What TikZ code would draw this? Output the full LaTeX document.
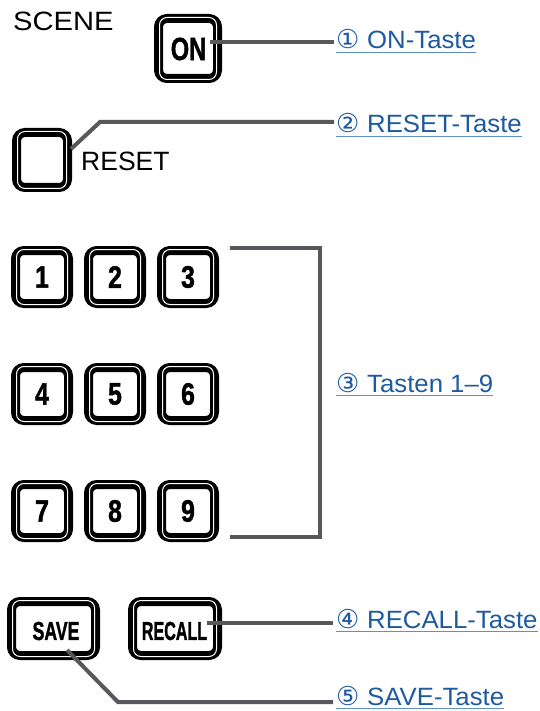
\documentclass[tikz,border=0pt]{standalone}
\usepackage{fontspec}
\usepackage{graphicx}
\setmainfont{Liberation Sans}
\newfontfamily\lblfont{Liberation Sans}[FakeStretch=1.03]
\newfontfamily\circfont{DejaVu Sans}
\newfontfamily\keyfont{Liberation Sans Bold}[FakeBold=1.6]
\definecolor{leadgray}{RGB}{88,88,92}
\definecolor{lblblue}{RGB}{30,90,160}
\definecolor{ulblue}{RGB}{95,145,200}
\tikzset{
  keyshape/.style={draw=black, line width=9pt, rounded corners=8.5pt, inner sep=0pt, outer sep=0pt, fill=white},
  keytext/.style={inner sep=0pt},
  plain/.style={inner sep=0pt, anchor=base west, font=\fontsize{26.5}{26.5}\selectfont},
  leader/.style={draw=leadgray, line width=4pt, line join=miter},
  lbl/.style={inner sep=0pt, anchor=base west, text=lblblue, font=\lblfont\fontsize{25}{25}\selectfont},
  uline/.style={draw=ulblue, line width=1.1pt}
}
\newcommand\keybtn[5]{%
  \node[keyshape, minimum width=#4-9, minimum height=#5-9] (#1) at (#2,#3) {};
  \draw[white, line width=1pt, rounded corners=7.5pt]
    ([shift={(1,-1)}]#1.north west) rectangle ([shift={(-1,1)}]#1.south east);
}
\newcommand\circnum[1]{\makebox[31pt][l]{\circfont\fontsize{26}{26}\selectfont #1}}
\newcommand\lablink[4]{% name, x, baseline, text
  \node[lbl] (#1) at (#2,#3) {#4};
  \draw[uline] ([yshift=-3.8pt]#1.base west) -- ([yshift=-3.8pt]#1.base east);
}
\begin{document}
\begin{tikzpicture}[x=1pt,y=-1pt]
\useasboundingbox (0,0) rectangle (539,711);

% texts
\node[plain] (scene) at (13,31) {\scalebox{1.1}[1]{SCENE}};
\node[plain] (resettxt) at (81,171) {RESET};

% buttons
\keybtn{onbtn}{188}{48.5}{68}{69}
\node[keytext, font=\keyfont\fontsize{32}{32}\selectfont] (ontxt) at (188.5,49) {\scalebox{0.74}[1]{ON}};
\keybtn{resetbtn}{42}{160}{60}{64}

\foreach \n/\cx/\cy in {1/42/277, 2/115/277, 3/188/277,
                        4/42/394, 5/115/394, 6/188/394,
                        7/42/511, 8/115/511, 9/188/511} {
  \keybtn{k\n}{\cx}{\cy}{62}{62}
  \node[keytext, font=\keyfont\fontsize{31}{31}\selectfont] (t\n) at (\cx,\cy) {\scalebox{0.8}[1]{\n}};
}

\keybtn{savebtn}{53.5}{628.5}{93}{63}
\node[keytext, font=\keyfont\fontsize{26}{26}\selectfont] (savetxt) at (56,631) {\scalebox{0.68}[1]{SAVE}};
\keybtn{recallbtn}{175}{628.5}{94}{63}
\node[keytext, font=\keyfont\fontsize{26}{26}\selectfont] (recalltxt) at (174.5,631) {\scalebox{0.62}[1]{RECALL}};

% labels
\lablink{l1}{336}{49}{\circnum{①}ON-Taste}
\lablink{l2}{336}{133}{\circnum{②}RESET-Taste}
\lablink{l3}{336}{392}{\circnum{③}Tasten 1–9}
\lablink{l4}{336}{628}{\circnum{④}RECALL-Taste}
\lablink{l5}{336}{705}{\circnum{⑤}SAVE-Taste}

% leader coordinates
\coordinate (a1) at (210,42);
\coordinate (b1) at (334,42);
\coordinate (a2) at (71,149);
\coordinate (m2) at (100,122);
\coordinate (b2) at (334,122);
\coordinate (a3) at (230,248);
\coordinate (c3) at (320,248);
\coordinate (d3) at (320,537);
\coordinate (e3) at (230,537);
\coordinate (a4) at (207,623);
\coordinate (b4) at (333,623);
\coordinate (a5) at (67,650);
\coordinate (m5) at (118,702);
\coordinate (b5) at (333,702);

\draw[leader] (a1) -- (b1);
\draw[leader] (a2) -- (m2) -- (b2);
\draw[leader] (a3) -- (c3) -- (d3) -- (e3);
\draw[leader] (a4) -- (b4);
\draw[leader] (a5) -- (m5) -- (b5);
\end{tikzpicture}
\end{document}
